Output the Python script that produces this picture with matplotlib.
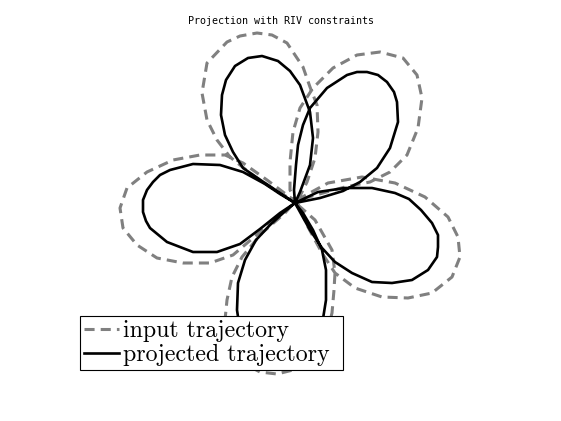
import numpy as np
from matplotlib import pyplot as plt

#  -------------------------------------------  data  ------------------------------------------  #
# points read off the trajectories, petal by petal (screen units, y grows downwards)

proj_x = [295, 318, 345, 372, 395, 409, 421, 432, 438, 438, 437, 428, 412, 392, 372, 352, 335, 322, 310, 300, 295,
          294, 296, 298, 303, 310, 327, 347, 357, 367, 378, 387, 394, 397, 398, 390, 377, 360, 343, 320, 295,
          300, 310, 313, 310, 300, 290, 278, 262, 248, 235, 226, 222, 221, 225, 233, 243, 262, 280, 295,
          280, 265, 243, 220, 193, 170, 160, 153, 147, 143, 143, 146, 150, 167, 193, 217, 240, 260, 280, 295,
          283, 270, 256, 245, 238, 237, 240, 250, 265, 282, 300, 315, 322, 326, 326, 322, 313, 303, 295]
proj_y = [203, 192, 188, 188, 193, 199, 210, 223, 235, 247, 257, 270, 280, 283, 282, 273, 262, 248, 230, 212, 203,
          190, 165, 145, 125, 108, 88, 75, 72, 72, 75, 82, 92, 102, 122, 148, 168, 182, 191, 198, 203,
          192, 165, 138, 112, 85, 71, 61, 56, 58, 66, 80, 95, 115, 135, 152, 168, 181, 193, 203,
          194, 184, 172, 165, 164, 170, 175, 182, 190, 200, 212, 221, 228, 242, 252, 252, 244, 229, 213, 203,
          213, 225, 240, 260, 283, 310, 330, 348, 358, 360, 355, 343, 325, 300, 270, 250, 230, 213, 203]

input_x = [297, 328, 362, 395, 425, 448, 458, 460, 452, 432, 408, 382, 355, 335, 322, 308, 298,
           290, 290, 293, 300, 313, 333, 357, 380, 403, 417, 422, 418, 407, 390, 370, 345, 323, 298,
           307, 315, 318, 317, 310, 303, 287, 272, 257, 240, 227, 207, 202, 207, 217, 230, 255, 278, 295,
           267, 243, 225, 200, 173, 147, 127, 120, 123, 137, 157, 183, 210, 233, 253, 277, 292,
           285, 262, 242, 232, 227, 225, 230, 243, 260, 277, 293, 310, 325, 332, 334, 335, 332, 315, 298]
input_y = [200, 183, 177, 183, 197, 217, 237, 257, 277, 293, 298, 297, 288, 273, 253, 227, 205,
           190, 162, 132, 108, 88, 68, 55, 52, 58, 75, 98, 128, 155, 172, 182, 187, 193, 200,
           182, 158, 132, 105, 87, 67, 43, 35, 33, 36, 42, 63, 93, 120, 140, 157, 177, 192, 201,
           180, 163, 155, 155, 160, 172, 188, 208, 228, 245, 258, 263, 263, 255, 238, 218, 205,
           213, 233, 257, 277, 300, 320, 345, 363, 372, 374, 370, 360, 340, 313, 290, 273, 250, 220, 205]

#  -------------------------------------------  plot  ------------------------------------------  #

fig = plt.figure(figsize=(5.61, 4.21), dpi=100)
ax = fig.add_axes([0, 0, 1, 1])

ax.plot(input_x, input_y, color='#808080', lw=2.2, dashes=(3.3, 2.0), label="input trajectory")
ax.plot(proj_x, proj_y, color='black', lw=1.9, solid_joinstyle='round', label="projected trajectory")

ax.set_xlim(0, 561)
ax.set_ylim(421, 0)
ax.axis('off')

fig.text(0.501, 1 - 21/421, "Projection with RIV constraints", ha='center', va='center',
         family='DejaVu Sans Mono', fontsize=7.2)

leg = ax.legend(loc='lower left', bbox_to_anchor=(80/561, 51/421, 263/561, 57/421), mode='expand',
                prop={'family': 'cmr10', 'size': 17.2},
                frameon=True, fancybox=False, framealpha=1, edgecolor='black', borderpad=0.15,
                handlelength=1.5, handletextpad=0.15, labelspacing=0.1, borderaxespad=0)
leg.get_frame().set_linewidth(0.8)

plt.savefig("out.png", dpi=100)
